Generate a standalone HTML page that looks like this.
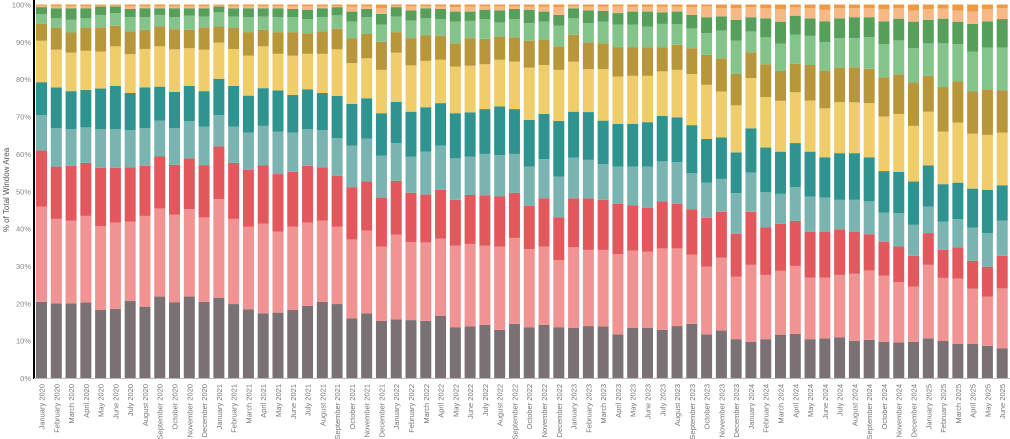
<!DOCTYPE html>
<html><head><meta charset="utf-8">
<style>
html,body{margin:0;padding:0;background:#fff;width:1010px;height:439px;overflow:hidden;}
svg text{font-family:"Liberation Sans",sans-serif;}
</style></head>
<body>
<svg id="chart" width="1010" height="439" xmlns="http://www.w3.org/2000/svg">
<g id="bars"></g>
<g id="yaxis"></g>
<g id="xaxis"></g>
<text transform="translate(9,190) rotate(-90)" text-anchor="middle" font-size="8" fill="#555">% of Total Window Area</text>
</svg>
<script>
const months = ["January","February","March","April","May","June","July","August","September","October","November","December"];
const categories = [];
for (let y = 2020; y <= 2025; y++) for (let m = 0; m < 12; m++) { if (y === 2025 && m > 5) break; categories.push(months[m] + " " + y); }
const yTicks = [0,10,20,30,40,50,60,70,80,90,100];
// cumulative top (%) of each stacked layer, bottom to top
const grayCum = [20.4,20.0,20.0,20.2,18.2,18.5,20.6,19.1,21.8,20.3,21.8,20.4,21.5,19.8,18.4,17.3,17.5,18.2,19.3,20.4,19.8,16.0,17.3,15.3,15.7,15.5,15.3,16.6,13.6,13.8,14.2,12.9,14.5,13.6,14.2,13.6,13.4,13.9,13.8,11.7,13.4,13.4,12.9,13.9,14.5,11.7,12.7,10.4,9.7,10.4,11.6,11.8,10.4,10.6,10.9,9.9,10.2,9.7,9.5,9.7,10.6,9.9,9.1,9.1,8.6,7.9];
const pinkCum = [45.9,42.6,42.1,43.4,40.7,41.6,41.9,43.4,45.4,43.7,45.2,43.0,47.9,42.6,40.5,41.3,39.2,40.5,41.6,42.1,40.5,37.1,39.5,35.2,38.4,36.4,36.3,37.3,35.4,35.9,35.4,35.2,37.5,34.5,35.2,31.6,35.0,34.3,34.3,33.2,34.1,33.8,34.7,34.7,33.0,29.8,32.2,27.1,30.3,27.6,28.7,30.0,26.9,26.9,27.6,27.9,28.8,27.4,25.7,24.5,30.3,26.8,26.6,23.9,21.8,24.0];
const redCum = [60.9,56.6,56.8,57.6,56.3,56.3,56.4,56.8,59.3,57.1,58.8,57.0,62.0,57.6,55.7,56.9,54.6,55.2,56.8,56.4,54.1,51.1,52.6,48.3,52.8,49.6,49.1,50.4,47.7,49.0,48.9,48.6,49.6,46.1,48.1,43.0,48.1,48.1,47.7,46.6,46.2,45.6,47.3,46.6,45.2,42.9,44.5,38.6,44.5,40.3,41.3,42.1,39.1,39.1,39.8,39.1,38.5,36.5,35.2,32.7,38.8,34.3,35.0,31.4,29.8,32.7];
const lightTealCum = [70.4,66.9,66.6,67.1,66.6,66.6,66.4,66.9,68.9,66.9,68.8,67.3,70.4,67.3,65.7,67.5,66.0,65.7,66.6,66.4,64.2,62.2,64.1,59.5,62.9,59.3,60.6,62.2,58.8,59.3,60.0,59.7,60.0,56.6,58.6,53.9,59.0,58.4,57.3,56.6,56.6,56.6,58.0,57.8,54.8,52.3,53.3,49.5,55.0,49.8,49.3,51.1,48.6,48.3,47.7,47.7,47.3,44.3,44.1,41.0,45.9,41.9,42.5,40.3,38.8,42.1];
const tealCum = [79.2,77.8,76.8,77.1,77.5,78.2,76.3,77.8,78.0,76.6,78.2,76.8,80.1,78.2,75.6,77.6,77.0,75.8,77.3,76.3,75.5,73.4,74.9,70.9,73.9,71.3,72.5,73.6,70.9,71.1,72.0,72.7,72.0,69.1,70.7,68.8,71.3,71.2,68.9,68.0,68.0,68.5,70.2,69.8,67.7,64.0,64.4,60.4,66.8,61.7,60.6,62.9,60.6,59.1,60.2,60.2,59.1,55.4,55.2,52.6,56.9,51.9,52.3,50.7,50.4,51.6];
const yellowCum = [90.3,87.9,87.1,87.6,87.4,88.8,86.7,88.1,88.8,88.0,88.3,87.9,89.8,88.1,86.3,88.8,86.8,86.3,86.8,86.8,88.0,84.3,85.6,82.5,87.1,83.7,84.9,85.2,83.4,83.6,84.0,85.2,84.7,83.1,83.8,82.5,84.7,82.7,82.7,80.7,80.9,80.9,82.1,82.5,81.4,78.5,76.7,73.0,80.3,75.2,74.2,76.5,74.3,72.2,73.9,73.8,73.6,70.0,70.7,67.5,71.3,66.0,68.4,65.4,65.1,65.7];
const oliveCum = [94.8,93.7,92.5,93.7,93.7,94.3,92.8,93.2,94.1,93.4,93.2,93.7,94.1,93.7,92.6,93.2,92.6,92.6,92.3,92.8,93.5,91.0,92.1,90.0,92.6,91.0,91.7,91.6,89.6,91.0,90.8,91.4,91.2,90.3,90.5,88.8,91.9,89.8,89.6,88.6,88.6,88.5,88.5,89.2,88.3,86.5,85.6,81.4,87.2,84.0,82.2,84.1,83.8,82.3,83.0,83.2,82.8,80.5,81.3,79.1,80.9,77.9,79.4,76.7,77.3,77.0];
const lightGreenCum = [97.4,96.3,95.9,96.3,97.2,97.7,96.6,96.6,97.2,96.6,97.0,96.8,97.9,96.8,96.6,96.8,96.6,96.6,96.1,96.6,97.1,95.4,96.6,94.6,96.8,95.7,96.3,96.1,95.4,95.6,96.1,95.2,96.1,95.0,95.4,94.3,96.3,95.0,95.4,94.6,94.6,94.1,94.8,94.7,93.6,92.3,93.0,90.3,92.8,91.2,89.5,91.9,91.6,89.9,91.0,91.0,91.3,89.4,90.4,88.3,89.6,89.6,89.4,87.4,88.5,88.5];
const greenCum = [99.3,99.0,99.0,99.0,99.5,99.5,98.8,99.0,99.0,99.0,99.0,99.0,99.5,99.0,99.0,99.0,99.0,98.8,98.6,99.0,99.3,98.1,98.8,97.5,99.3,98.4,99.0,98.8,98.1,98.1,98.6,98.4,98.8,98.6,98.1,97.2,99.0,98.4,98.3,97.7,98.1,98.1,97.9,98.1,97.2,96.6,96.8,95.9,96.6,96.3,95.4,97.0,96.3,95.5,96.3,96.6,96.6,95.5,96.2,95.4,95.9,96.2,95.4,94.8,95.5,96.1];
const lightOrangeCum = greenCum.map(v => Math.min(99.7, v + 0.0) );
const lightOrangeTop = [99.7,99.6,99.6,99.6,99.7,99.7,99.6,99.6,99.6,99.6,99.6,99.6,99.7,99.6,99.6,99.6,99.6,99.6,99.6,99.6,99.6,99.4,99.5,99.0,99.6,99.5,99.6,99.5,99.3,99.4,99.5,99.5,99.5,99.4,99.4,99.3,99.6,99.4,99.4,99.5,99.4,99.4,99.4,99.4,99.3,99.5,99.0,99.0,99.3,99.0,98.8,99.3,99.0,98.6,99.0,99.0,99.0,98.8,99.0,98.4,98.8,98.9,98.4,98.1,98.8,99.0];
const seriesCum = [grayCum,pinkCum,redCum,lightTealCum,tealCum,yellowCum,oliveCum,lightGreenCum,greenCum,lightOrangeTop];
const seriesNames = ["gray","pink","red","light-teal","teal","yellow","olive","light-green","green","light-orange","orange"];
const colors = ["#797174","#f19293","#e2585d","#79b4b0","#2f9490","#f0cd6b","#b8963a","#84c48b","#56a05b","#f6b985","#ee9a45"];

const NS = "http://www.w3.org/2000/svg";
const plotTop = 4.5, plotBottom = 378;
function yScale(p){ return plotBottom - p/100*(plotBottom-plotTop); }
const x0 = 36, pitch = 14.78, bw = 11;
function xScale(i){ return x0 + i*pitch; }

const bars = document.getElementById('bars');
categories.forEach((c,i)=>{
  let prev = 0;
  for (let s = 0; s < 11; s++) {
    const top = s < 10 ? seriesCum[s][i] : 100;
    const r = document.createElementNS(NS,'rect');
    r.setAttribute('x', xScale(i));
    r.setAttribute('width', bw);
    r.setAttribute('y', yScale(top));
    r.setAttribute('height', Math.max(0, yScale(prev)-yScale(top)));
    r.setAttribute('fill', colors[s]);
    
    
    bars.appendChild(r);
    prev = top;
  }
});

const yaxis = document.getElementById('yaxis');
yTicks.forEach(t=>{
  const tx = document.createElementNS(NS,'text');
  tx.setAttribute('x', 31); tx.setAttribute('y', yScale(t)+3);
  tx.setAttribute('text-anchor','end'); tx.setAttribute('font-size','7.5'); tx.setAttribute('fill','#888');
  tx.textContent = t + '%';
  
  
  yaxis.appendChild(tx);
});
const axl = document.createElementNS(NS,'line');
axl.setAttribute('x1',34); axl.setAttribute('x2',34); axl.setAttribute('y1',0); axl.setAttribute('y2',379);
axl.setAttribute('stroke','#000'); axl.setAttribute('stroke-width','2');


yaxis.appendChild(axl);
const bl = document.createElementNS(NS,'line');
bl.setAttribute('x1',34); bl.setAttribute('x2',1010); bl.setAttribute('y1',378.5); bl.setAttribute('y2',378.5);
bl.setAttribute('stroke','#bbb'); bl.setAttribute('stroke-width','1');


yaxis.appendChild(bl);

const xaxis = document.getElementById('xaxis');
categories.forEach((c,i)=>{
  const tx = document.createElementNS(NS,'text');
  const cx = xScale(i) + bw/2 + 3;
  tx.setAttribute('transform', 'translate(' + cx + ',384) rotate(-90)');
  tx.setAttribute('text-anchor','end'); tx.setAttribute('font-size','7.5'); tx.setAttribute('fill','#777');
  tx.textContent = c;
  
  
  xaxis.appendChild(tx);
});
</script>
</body></html>
